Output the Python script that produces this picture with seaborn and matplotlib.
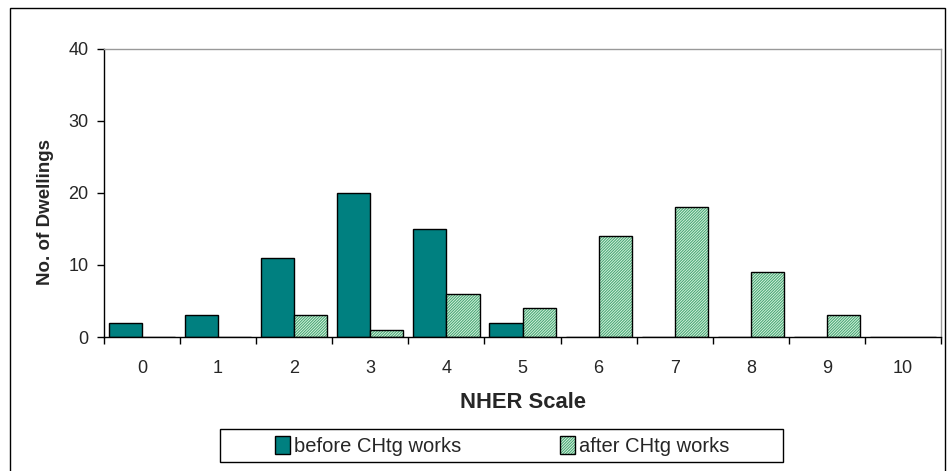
import numpy as np
import pandas as pd
import matplotlib
matplotlib.use("Agg")
import matplotlib.pyplot as plt
import seaborn as sns
from matplotlib.colors import to_rgba
from matplotlib.patches import Rectangle, Patch

categories = [str(i) for i in range(11)]
before = [2, 3, 11, 20, 15, 2, 0, 0, 0, 0, 0]
after = [0, 0, 3, 1, 6, 4, 14, 18, 9, 3, 0]
series = ["before CHtg works", "after CHtg works"]
yticks = [0, 10, 20, 30, 40]

df = pd.DataFrame({
    "NHER": categories * 2,
    "count": before + after,
    "series": [series[0]] * 11 + [series[1]] * 11,
})

sns.set_style("white")
plt.rcParams["font.family"] = ["Liberation Sans", "DejaVu Sans"]
plt.rcParams["hatch.linewidth"] = 0.8
plt.rcParams["hatch.color"] = "#4aa877"

teal = "#008080"
mint = "#e2f8e6"
hatch_col = "#4aa877"
HATCH = "/" * 12

fig = plt.figure(figsize=(9.47, 4.71), dpi=100)
ax = fig.add_axes([0.1098, 0.2845, 0.8839, 0.6115])

sns.barplot(data=df, x="NHER", y="count", hue="series", order=categories,
            hue_order=series, palette=[teal, mint], width=0.87,
            edgecolor="black", linewidth=1.0, legend=False, ax=ax, saturation=1)

for bar in ax.containers[1]:
    bar.set_hatch(HATCH)
    if hasattr(bar, "set_hatchcolor"):
        bar.set_hatchcolor(hatch_col)
    bar._hatch_color = to_rgba(hatch_col)

ax.set_ylim(0, 40)
ax.set_xlim(-0.5, 10.5)
ax.set_yticks(yticks)
ax.set_yticklabels([str(v) for v in yticks])
ax.set_xticks(np.arange(-0.5, 11.0, 1.0))
ax.set_xticklabels([])
ax.set_xticks(np.arange(11), minor=True)
ax.set_xticklabels(categories, minor=True)
ax.tick_params(axis="x", which="major", direction="out", length=5, width=1, color="black", bottom=True)
ax.tick_params(axis="x", which="minor", length=0, pad=16.5, labelsize=13)
ax.tick_params(axis="y", direction="out", length=5, width=1, color="black", left=True, pad=6, labelsize=13)

for s in ["left", "bottom"]:
    ax.spines[s].set_color("black")
    ax.spines[s].set_linewidth(1.0)
for s in ["top", "right"]:
    ax.spines[s].set_color("#999999")
    ax.spines[s].set_linewidth(1.0)

ax.set_xlabel("NHER Scale", fontsize=15.8, fontweight="bold", labelpad=11)
ax.set_ylabel("No. of Dwellings", fontsize=13.5, fontweight="bold")
ax.yaxis.set_label_coords(-0.060, 0.434)

handles = [Patch(facecolor=teal, edgecolor="black", linewidth=1.0),
           Patch(facecolor=mint, edgecolor="black", linewidth=1.0, hatch=HATCH)]
leg = fig.legend(handles, series, loc="center", bbox_to_anchor=(0.5300, 0.0535),
                 ncol=2, frameon=False,
                 fontsize=14.5, handlelength=0.75, handleheight=1.0, handletextpad=0.2,
                 columnspacing=4.9, borderpad=0.35, borderaxespad=0)
lh = leg.legend_handles[1]
lh._hatch_color = to_rgba(hatch_col)
if hasattr(lh, "set_hatchcolor"):
    lh.set_hatchcolor(hatch_col)

# legend box
fig.patches.append(Rectangle((220 / 947, 1 - 462 / 471), 563 / 947, 33 / 471,
                             transform=fig.transFigure, fill=False, edgecolor="black",
                             linewidth=1.0, figure=fig))
# figure border
fig.patches.append(Rectangle((0.0106, -0.02), 0.9874, 1.003, transform=fig.transFigure,
                             fill=False, edgecolor="black", linewidth=1.0, figure=fig))

fig.savefig("out.png", dpi=100)
